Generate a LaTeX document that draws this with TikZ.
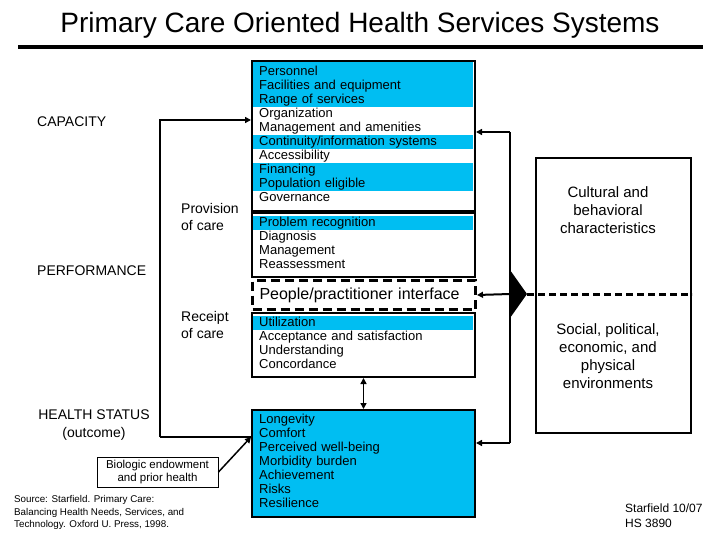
\documentclass[tikz,border=0pt]{standalone}
\usepackage{fontspec}
\setmainfont{Liberation Sans}
\usetikzlibrary{positioning,arrows.meta,calc}
\definecolor{careblue}{RGB}{0,190,242}

\begin{document}
\begin{tikzpicture}[x=1pt,y=-1pt,
	listrow/.style={anchor=north west,inner xsep=7pt,inner ysep=0pt,text width=207pt,align=left,minimum height=14pt,text height=9pt,text depth=3pt,font=\fontsize{13}{14}\selectfont},
	listbox/.style={draw,line width=2pt,anchor=north west,minimum width=223pt,inner sep=0pt},
	conn/.style={line width=2pt},
	arr/.style={-{Triangle[length=6pt,width=6pt]}},
	lab/.style={inner sep=0pt,align=left,font=\fontsize{14}{17}\selectfont},
	]
	\useasboundingbox (0,0) rectangle (720,540);
	% title
	\node[font=\fontsize{28}{32}\selectfont,anchor=base] (title) at (360,33) {Primary Care Oriented Health Services Systems};
	\draw[line width=4pt] (18,47) -- (703,47);

	% capacity
	\fill[careblue] (252,61) rectangle (473,65);
	\foreach \c/\t [count=\i from 0] in {careblue/Personnel, careblue/Facilities and equipment, careblue/Range of services, white/Organization, white/Management and amenities, careblue/{Continuity/information systems}, white/Accessibility, careblue/Financing, careblue/Population eligible, white/Governance}
		\node[listrow,fill=\c] (cap\i) at (252,{65+14*\i}) {\t};
	\node[listbox,minimum height=150pt] (cap) at (251,60) {};

	% provision of care
	\foreach \c/\t [count=\i from 0] in {careblue/Problem recognition, white/Diagnosis, white/Management, white/Reassessment}
		\node[listrow,fill=\c] (proc\i) at (252,{216+14*\i}) {\t};
	\node[listbox,minimum height=64pt] (proc) at (251,212) {};

	\node[listbox,dashed,line width=3pt,dash pattern=on 9pt off 5pt,minimum height=29pt,inner xsep=7pt,text width=209pt,align=left,font=\fontsize{16}{18}\selectfont] (iface) at (251,279) {People/practitioner interface};

	% receipt of care
	\foreach \c/\t [count=\i from 0] in {careblue/Utilization, white/Acceptance and satisfaction, white/Understanding, white/Concordance}
		\node[listrow,fill=\c] (util\i) at (252,{316+14*\i}) {\t};
	\node[listbox,minimum height=64pt] (util) at (251,312) {};

	% outcome
	\node[listbox,fill=careblue,minimum height=107pt] (outc) at (251,409) {};
	\foreach \t [count=\i from 0] in {Longevity, Comfort, Perceived well-being, Morbidity burden, Achievement, Risks, Resilience}
		\node[listrow] (outc\i) at (252,{413+14*\i}) {\t};

	\draw[conn,line width=1.5pt,{Triangle[length=6pt,width=6pt]}-{Triangle[length=6pt,width=6pt]}] (util.south) -- (outc.north);

	% left side
	\node[lab,anchor=west] (capl) at (37,122) {CAPACITY};
	\node[lab,anchor=west] (perf) at (37,271) {PERFORMANCE};
	\node[lab,anchor=west] (prov) at (181,217) {Provision\\of care};
	\node[lab,anchor=west] (rec) at (181,325) {Receipt\\of care};
	\node[lab,align=center,font=\fontsize{14}{18}\selectfont] (hs) at (94,425) {HEALTH STATUS\\(outcome)};
	\node[draw,line width=1pt,minimum width=121pt,minimum height=30pt,inner sep=0pt,align=center,font=\fontsize{11.5}{13.5}\selectfont] (bio) at (157.5,472) {Biologic endowment\\and prior health};
	\node[lab,anchor=west,font=\fontsize{9.8}{12.5}\selectfont] (src) at (14,512.5) {Source: Starfield. Primary Care:\\Balancing Health Needs, Services, and\\Technology. Oxford U. Press, 1998.};

	\coordinate (lt) at (160,120);
	\coordinate (lb) at (160,437);
	\draw[conn,arr] (lb) -- (lt) -- (cap.west |- lt);
	\draw[conn] (lb) -- (outc.west |- lb);
	\draw[conn,line width=1.5pt,arr] (bio.east) -- (outc.west |- lb);

	% right side
	\node[draw,line width=2pt,minimum width=155pt,minimum height=275pt,anchor=north west,inner sep=0pt] (env) at (535,157) {};
	\node[lab,align=center,font=\fontsize{15}{18}\selectfont] (cult) at (608,210) {Cultural and\\behavioral\\characteristics};
	\node[lab,align=center,font=\fontsize{15}{18}\selectfont] (soc) at (608,356) {Social, political,\\economic, and\\physical\\environments};

	\coordinate (rt) at (510,132);
	\coordinate (rm) at (510,294);
	\coordinate (rb) at (510,443);
	\draw[conn,arr] (rt) -- (cap.east |- rt);
	\draw[conn] (rt) -- (rb);
	\draw[conn,arr] (rb) -- (outc.east |- rb);
	\draw[conn,arr] (rm) -- (iface.east);
	\fill ($(rm)+(0,-24)$) -- ($(rm)+(17,0)$) coordinate (tri) -- ($(rm)+(0,24)$) -- cycle;
	\draw[line width=3pt,dash pattern=on 7pt off 4pt] (tri) -- (env.east |- tri);

	\node[lab,anchor=west,font=\fontsize{12}{15}\selectfont] (sig) at (625,515.5) {Starfield 10/07\\HS 3890};
\end{tikzpicture}
\end{document}
